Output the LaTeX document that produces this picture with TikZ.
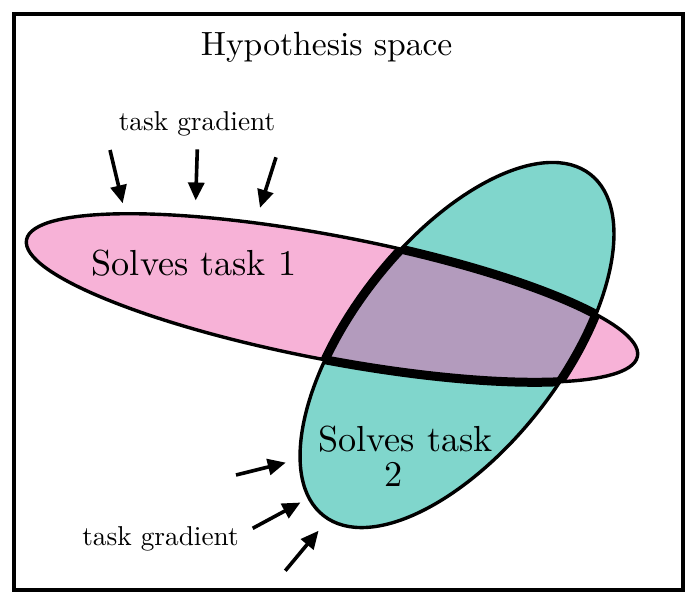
\documentclass[tikz,border=0pt]{standalone}
\usetikzlibrary{arrows.meta}
\definecolor{pinkfill}{HTML}{F7B2D7}
\definecolor{tealfill}{HTML}{80D6CC}
\definecolor{purplefill}{HTML}{B39BBD}
\begin{document}
\begin{tikzpicture}[x=1pt,y=-1pt,
  thinline/.style={line width=3.4pt},
  thickline/.style={line width=9pt},
  grad/.style={line width=3.6pt,-{Triangle[length=18pt,width=16pt]}},
  bigtext/.style={font=\fontsize{10}{12}\selectfont,anchor=base,inner sep=0pt,scale=3.62,transform shape},
  smalltext/.style={font=\fontsize{10}{12}\selectfont,anchor=base,inner sep=0pt,scale=2.73,transform shape},
  titletext/.style={font=\fontsize{10}{12}\selectfont,anchor=base,inner sep=0pt,scale=3.36,transform shape}]
\useasboundingbox (0,0) rectangle (698,606);
\def\pinkpath{[shift={(332,298)},rotate=-10.8] (0,0) ellipse [x radius=311pt, y radius=62pt]}
\def\tealpath{[shift={(457,345)},rotate=52] (0,0) ellipse [x radius=216.6pt, y radius=105pt]}
% fills
\fill[pinkfill] \pinkpath;
\fill[tealfill] \tealpath;
\begin{scope}
  \clip \pinkpath;
  \fill[purplefill] \tealpath;
\end{scope}
% outlines
\draw[thinline] \pinkpath;
\draw[thinline] \tealpath;
\begin{scope}
  \clip \tealpath;
  \draw[thickline] \pinkpath;
\end{scope}
\begin{scope}
  \clip \pinkpath;
  \draw[thickline] \tealpath;
\end{scope}
% frame
\node[draw,line width=3.4pt,minimum width=669pt,minimum height=576pt,inner sep=0pt] (frame) at (348.5,302) {};
% texts
\node[titletext] (title) at (326.6,55) {Hypothesis space};
\node[bigtext] (t1) at (194,275) {Solves task 1};
\node[bigtext] (t2a) at (405.5,451.7) {Solves task};
\node[bigtext] (t2b) at (394,486.7) {2};
\node[smalltext] (g1) at (197,130) {task gradient};
\node[smalltext] (g2) at (160.5,545) {task gradient};
% arrows
\coordinate (a1s) at (110,150); \coordinate (a1e) at (122.7,203.3);
\coordinate (a2s) at (197.3,149.3); \coordinate (a2e) at (195.7,200.5);
\coordinate (a3s) at (276,157.3); \coordinate (a3e) at (260,207.8);
\coordinate (b1s) at (236,475); \coordinate (b1e) at (285.8,462.6);
\coordinate (b2s) at (252.7,528.3); \coordinate (b2e) at (300.5,502.5);
\coordinate (b3s) at (285.3,570.7); \coordinate (b3e) at (318.6,530.7);
\draw[grad] (a1s) -- (a1e);
\draw[grad] (a2s) -- (a2e);
\draw[grad] (a3s) -- (a3e);
\draw[grad] (b1s) -- (b1e);
\draw[grad] (b2s) -- (b2e);
\draw[grad] (b3s) -- (b3e);
\end{tikzpicture}
\end{document}
